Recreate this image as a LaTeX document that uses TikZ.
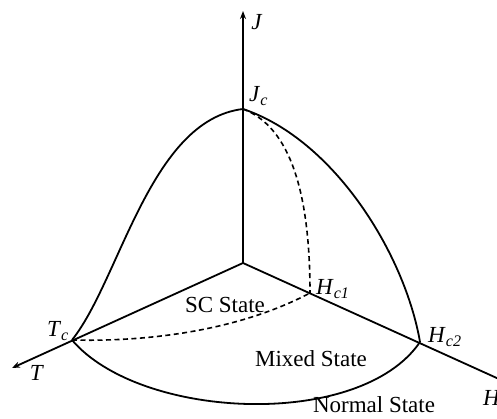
\documentclass[tikz,border=0pt]{standalone}
\usepackage{fontspec}
\setmainfont{Liberation Serif}
\usetikzlibrary{arrows.meta}
\begin{document}
\begin{tikzpicture}[x=1pt,y=-1pt,
  axis/.style={line width=1.8pt},
  curve/.style={line width=1.8pt},
  dcurve/.style={line width=1.6pt,dash pattern=on 5pt off 3.5pt},
  tip/.style={-{Stealth[length=8pt,width=6pt]}},
  lbl/.style={inner sep=0pt,font=\fontsize{23}{27}\selectfont}]
\fill[white] (0,0) rectangle (497,419);
\useasboundingbox (0,0) rectangle (497,419);
% points
\coordinate (O) at (243,263);
\coordinate (Jc) at (243,109);
\coordinate (Jtop) at (243,11);
\coordinate (Tc) at (72,340);
\coordinate (Tend) at (12,368);
\coordinate (Hc1) at (310,293);
\coordinate (Hc2) at (420,342);
\coordinate (Hend) at (510,384);
% axes
\draw[axis,tip] (O) -- (Jtop);
\draw[axis,tip] (O) -- (Tend);
\draw[axis] (O) -- (Hend);
% curves
\draw[curve] (Tc) .. controls (120,280) and (150,120) .. (Jc);
\draw[curve] (Jc) .. controls (335,140) and (405,255) .. (Hc2);
\draw[curve] (Tc) .. controls (140,420) and (360,430) .. (Hc2);
\draw[dcurve] (Jc) .. controls (285,125) and (310,180) .. (Hc1);
\draw[dcurve] (Tc) .. controls (150,342) and (240,330) .. (Hc1);
% labels
\node[lbl] (lJ) at (257,22) {\textit{J}};
\node[lbl,anchor=west] (lJc) at (249,96) {\textit{J}\textsubscript{\textit{c}}};
\node[lbl,anchor=east] (lTc) at (69,331) {\textit{T}\textsubscript{\textit{c}}};
\node[lbl] (lT) at (37,373) {\textit{T}};
\node[lbl,anchor=west] (lHc1) at (316,289) {\textit{H}\textsubscript{\textit{c1}}};
\node[lbl,anchor=west] (lHc2) at (428,337) {\textit{H}\textsubscript{\textit{c2}}};
\node[lbl,anchor=west] (lH) at (483,398) {\textit{H}};
\node[lbl] (sc) at (225,305) {SC State};
\node[lbl] (mixed) at (311,359) {Mixed State};
\node[lbl] (normal) at (374,405) {Normal State};
\end{tikzpicture}
\end{document}
